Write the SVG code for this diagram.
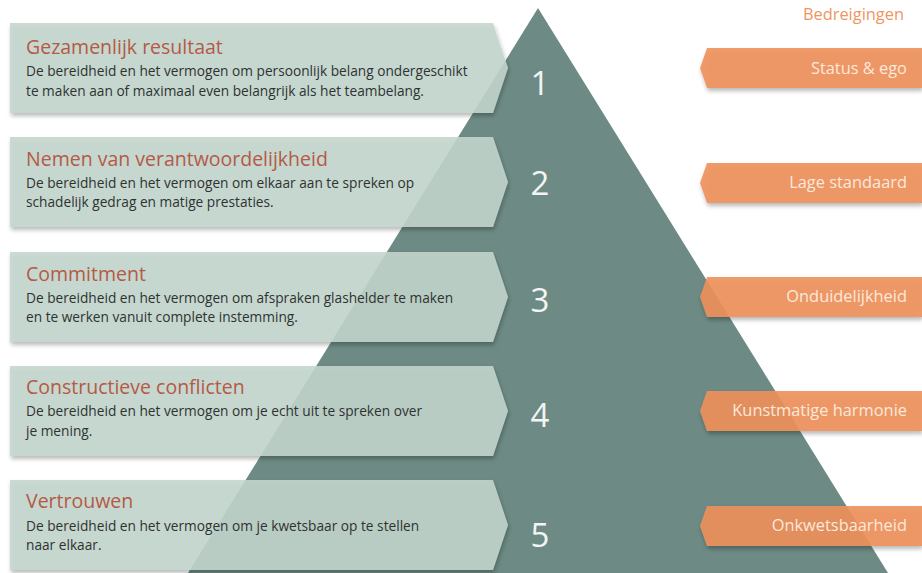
<svg xmlns="http://www.w3.org/2000/svg" width="922" height="573" viewBox="0 0 922 573">
  <defs>
    <filter id="shadow" x="-5%" y="-20%" width="110%" height="150%">
      <feDropShadow dx="1" dy="3" stdDeviation="2" flood-color="#000" flood-opacity="0.3"/>
    </filter>
    <filter id="lineShadow" x="-5%" y="-200%" width="110%" height="500%">
      <feDropShadow dx="0" dy="1.5" stdDeviation="1" flood-color="#000" flood-opacity="0.3"/>
    </filter>
    <path id="leftBox" d="M10,0 H493 L508,45 L493,90 H10 Z"/>
    <path id="threatBox" d="M707,0 H922 V40 H707 L700,20 Z"/>
  </defs>
  <style>
    .box { fill: #c4d6cd; fill-opacity: 0.88; filter: url(#shadow); }
    .threat { fill: #ee915b; fill-opacity: 0.9; filter: url(#shadow); }
    .title { font-family: "Open Sans", "Noto Sans", sans-serif; font-size: 19.5px; fill: #b45a46; }
    .body { font-family: "Open Sans", "Noto Sans", sans-serif; font-size: 13.7px; fill: #2e3331; }
    .num { font-family: "Open Sans", "Noto Sans", sans-serif; font-size: 33px; fill: #f2f5f4; text-anchor: middle; }
    .threatText { font-family: "Open Sans", "Noto Sans", sans-serif; font-size: 16.4px; fill: #fde8da; text-anchor: end; }
    .head { font-family: "Open Sans", "Noto Sans", sans-serif; font-size: 16.4px; fill: #ef9562; text-anchor: end; }
    .divider { stroke: #f5f7f6; stroke-width: 3; filter: url(#lineShadow); }
  </style>

  <rect width="922" height="573" fill="#ffffff"/>

  <!-- pyramid -->
  <g id="pyramid">
    <polygon points="538,8 888,573 188,573" fill="#6d8a84"/>
  </g>

  <!-- layer dividers -->
  <g id="connectors">
    <line class="divider" x1="466" y1="122" x2="607" y2="122"/>
    <line class="divider" x1="396" y1="237" x2="678" y2="237"/>
    <line class="divider" x1="326" y1="350" x2="747" y2="350"/>
    <line class="divider" x1="256" y1="464" x2="819" y2="464"/>
  </g>

  <!-- layer numbers -->
  <g id="numbers">
    <text class="num" x="540" y="95">1</text>
    <text class="num" x="540" y="195">2</text>
    <text class="num" x="540" y="312">3</text>
    <text class="num" x="540" y="427">4</text>
    <text class="num" x="540" y="547">5</text>
  </g>

  <!-- dysfunction layers -->
  <g id="layer1">
    <use href="#leftBox" class="box" y="23"/>
    <text class="title" x="26" y="54">Gezamenlijk resultaat</text>
    <text class="body" x="26" y="76">De bereidheid en het vermogen om persoonlijk belang ondergeschikt</text>
    <text class="body" x="26" y="96">te maken aan of maximaal even belangrijk als het teambelang.</text>
  </g>
  <g id="layer2">
    <use href="#leftBox" class="box" y="137"/>
    <text class="title" x="26" y="166">Nemen van verantwoordelijkheid</text>
    <text class="body" x="26" y="188">De bereidheid en het vermogen om elkaar aan te spreken op</text>
    <text class="body" x="26" y="207">schadelijk gedrag en matige prestaties.</text>
  </g>
  <g id="layer3">
    <use href="#leftBox" class="box" y="252"/>
    <text class="title" x="26" y="281">Commitment</text>
    <text class="body" x="26" y="303">De bereidheid en het vermogen om afspraken glashelder te maken</text>
    <text class="body" x="26" y="322">en te werken vanuit complete instemming.</text>
  </g>
  <g id="layer4">
    <use href="#leftBox" class="box" y="366"/>
    <text class="title" x="26" y="394">Constructieve conflicten</text>
    <text class="body" x="26" y="416">De bereidheid en het vermogen om je echt uit te spreken over</text>
    <text class="body" x="26" y="436">je mening.</text>
  </g>
  <g id="layer5">
    <use href="#leftBox" class="box" y="480"/>
    <text class="title" x="26" y="508">Vertrouwen</text>
    <text class="body" x="26" y="531">De bereidheid en het vermogen om je kwetsbaar op te stellen</text>
    <text class="body" x="26" y="550">naar elkaar.</text>
  </g>

  <!-- threats -->
  <text class="head" x="904" y="20">Bedreigingen</text>
  <g id="threat1">
    <use href="#threatBox" class="threat" y="48"/>
    <text class="threatText" x="907" y="74">Status &amp; ego</text>
  </g>
  <g id="threat2">
    <use href="#threatBox" class="threat" y="163"/>
    <text class="threatText" x="907" y="188">Lage standaard</text>
  </g>
  <g id="threat3">
    <use href="#threatBox" class="threat" y="277"/>
    <text class="threatText" x="907" y="302">Onduidelijkheid</text>
  </g>
  <g id="threat4">
    <use href="#threatBox" class="threat" y="391"/>
    <text class="threatText" x="907" y="416">Kunstmatige harmonie</text>
  </g>
  <g id="threat5">
    <use href="#threatBox" class="threat" y="506"/>
    <text class="threatText" x="907" y="531">Onkwetsbaarheid</text>
  </g>
</svg>
